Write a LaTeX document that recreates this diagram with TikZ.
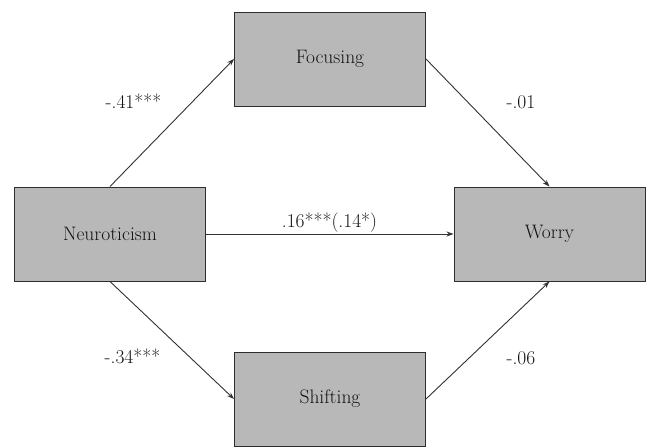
\documentclass[tikz,border=0pt]{standalone}
\usetikzlibrary{arrows.meta}
\definecolor{boxfill}{RGB}{184,184,184}
\definecolor{boxline}{RGB}{45,45,45}
\definecolor{arrowcol}{RGB}{50,50,50}
\definecolor{txt}{RGB}{20,20,20}
\begin{document}
\begin{tikzpicture}[x=1pt,y=-1pt,
  box/.style={draw=boxline, fill=boxfill, line width=1pt, minimum width=191pt, minimum height=94pt, inner sep=0pt, font=\fontsize{19.5}{23}\selectfont, text=txt},
  pathline/.style={draw=arrowcol, line width=0.9pt, -{Stealth[length=7pt,width=5pt]}},
  coef/.style={anchor=base, inner sep=0pt, font=\fontsize{19.5}{23}\selectfont, text=txt}]
\fill[white] (0,0) rectangle (646,447);
\useasboundingbox (0,0) rectangle (646,447);
\node[box] (foc) at (330,59) {Focusing};
\node[box] (neu) at (110,234) {Neuroticism};
\node[box] (wor) at (549.5,234) {Worry};
\node[box] (shi) at (330,399) {Shifting};
\draw[pathline] (neu.north) -- (foc.west);
\draw[pathline] (foc.east) -- (wor.north);
\draw[pathline] (neu.east) -- (wor.west);
\draw[pathline] (neu.south) -- (shi.west);
\draw[pathline] (shi.east) -- (wor.south);
\node[coef] (c1) at (133.5,108) {-.41***};
\node[coef] (c2) at (521,108) {-.01};
\node[coef] (c3) at (329.5,227) {.16***(.14*)};
\node[coef] (c4) at (132.5,363) {-.34***};
\node[coef] (c5) at (521,364) {-.06};
\end{tikzpicture}
\end{document}
